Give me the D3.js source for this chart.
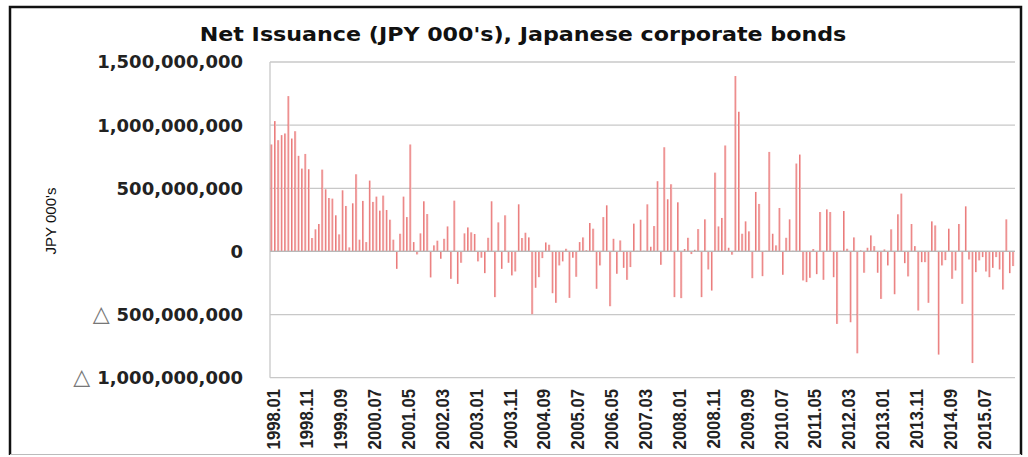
<!DOCTYPE html>
<html lang="en">
<head>
    <meta charset="utf-8">
    <title>Net Issuance, Japanese corporate bonds</title>
    <script src="https://d3js.org/d3.v7.min.js"></script>
    <style>
        body {
            margin: 0;
            padding: 0;
            background: #fff;
            overflow: hidden;
        }
        svg {
            display: block;
        }
        .title {
            font-family: "DejaVu Sans", sans-serif;
            font-weight: bold;
            font-size: 20px;
            fill: #111;
        }
        .ylab {
            font-family: "DejaVu Sans", sans-serif;
            font-weight: bold;
            font-size: 18px;
            fill: #222;
        }
        .ylab .tri {
            font-weight: normal;
            fill: #777;
            font-size: 22px;
        }
        .xlab {
            font-family: "Liberation Sans", Arial, sans-serif;
            font-weight: bold;
            font-size: 19px;
            fill: #222;
        }
        .ytitle {
            font-family: "Liberation Sans", sans-serif;
            font-size: 15px;
            fill: #111;
        }
        .grid line {
            stroke: #c8c8c8;
            stroke-width: 1.3px;
        }
    </style>
</head>
<body>
<svg id="chart"></svg>
<script>
    // net issuance, millions of JPY 000's, monthly from 1998.01
    const values = [
        847, 1032, 881, 921, 934, 1230, 894, 952, 757, 656, 772, 651, 106, 175, 217, 648, 492, 423, 418, 286, 135, 484, 360, 32, 381, 611, 93,
        400, 74, 561, 392, 434, 323, 442, 328, 251, 93, -138, 140, 434, 272, 847, 74, -24, 143, 397, 296, -206, 48, 85, -58, 100, 198, -217,
        402, -257, -90, 143, 190, 151, 138, -79, -50, -172, 108, 397, -362, 230, -138, 286, -90, -190, -159, 373, 106, 148, 111, -497, -288, -204, -53,
        71, 53, -331, -407, -111, -79, 21, -368, -50, -201, 74, 111, 10, 225, 180, -296, -111, 272, 365, -434, 100, -177, 87, -130, -225, -124, 220,
        5, 251, 5, 373, 37, 201, 556, -106, 825, 413, 532, -362, 389, -370, 19, 108, -21, 13, 177, -362, 254, -143, -310, 624, 198, 265, 839,
        29, -26, 1389, 1106, 140, 238, 159, -212, 471, 376, -196, 5, 788, 140, 48, 344, -185, 108, 254, 5, 696, 767, -230, -243, -209, 19, -180, 312,
        -225, 333, 312, -204, -574, 5, 320, 21, -561, 111, -807, 8, -169, 29, 127, 42, -169, -376, 16, -111, 175, -339, 294, 458, -93, -198, 217,
        42, -468, -85, -85, -407, 238, 206, -817, -111, -69, 180, -217, -151, 217, -415, 357, -64, -884, -164, -71, -45, -159, -204, -130, -45, -143, -302, 254, -172, -116
    ];

    const tickLabels = [
        "1998.01", "1998.11", "1999.09", "2000.07", "2001.05", "2002.03", "2003.01", "2003.11",
        "2004.09", "2005.07", "2006.05", "2007.03", "2008.01", "2008.11", "2009.09", "2010.07",
        "2011.05", "2012.03", "2013.01", "2013.11", "2014.09", "2015.07"
    ];

    const yTicks = [-1000, -500, 0, 500, 1000, 1500];

    // month labels for each bar
    const months = values.map((v, i) => {
        const y = 1998 + Math.floor(i / 12);
        const m = (i % 12) + 1;
        return `${y}.${String(m).padStart(2, "0")}`;
    });

    const width = 1028;
    const height = 457;

    const svg = d3.select("#chart")
        .attr("width", width)
        .attr("height", height);

    const defs = svg.append("defs");
    const grad = defs.append("linearGradient")
        .attr("id", "barGrad")
        .attr("x1", "0").attr("x2", "1").attr("y1", "0").attr("y2", "0");
    grad.append("stop").attr("offset", "0%").attr("stop-color", "#e45e5e");
    grad.append("stop").attr("offset", "100%").attr("stop-color", "#f9cdcd");

    // outer frame
    svg.append("rect")
        .attr("x", 0).attr("y", 0)
        .attr("width", width).attr("height", height)
        .attr("fill", "#fff");
    svg.append("path")
        .attr("d", "M10,455V7H1021V455")
        .attr("fill", "none")
        .attr("stroke", "#111")
        .attr("stroke-width", 2.5);
    svg.append("line")
        .attr("x1", 10).attr("x2", 1021)
        .attr("y1", 454.5).attr("y2", 454.5)
        .attr("stroke", "#bbb")
        .attr("stroke-width", 1);

    const plot = { left: 270, right: 1015, top: 62, bottom: 377.7 };

    const x = d3.scaleBand()
        .domain(months)
        .range([plot.left, plot.right])
        .paddingInner(0.42)
        .paddingOuter(0.2);

    const y = d3.scaleLinear()
        .domain([-1000, 1500])
        .range([plot.bottom, plot.top]);

    // gridlines
    svg.append("g")
        .attr("class", "grid")
        .selectAll("line")
        .data(yTicks)
        .join("line")
        .attr("x1", plot.left)
        .attr("x2", plot.right)
        .attr("y1", d => y(d))
        .attr("y2", d => y(d));

    svg.append("line")
        .attr("x1", plot.left).attr("x2", plot.left)
        .attr("y1", plot.top).attr("y2", plot.bottom)
        .attr("stroke", "#c8c8c8")
        .attr("stroke-width", 1.3);

    // bars
    svg.append("g")
        .selectAll("rect")
        .data(values)
        .join("rect")
        .attr("x", (d, i) => x(months[i]))
        .attr("width", x.bandwidth())
        .attr("y", d => y(Math.max(0, d)))
        .attr("height", d => Math.abs(y(d) - y(0)))
        .attr("fill", "url(#barGrad)");

    // zero line above bars
    svg.append("line")
        .attr("x1", plot.left).attr("x2", plot.right)
        .attr("y1", y(0)).attr("y2", y(0))
        .attr("stroke", "#b8b8b8")
        .attr("stroke-width", 1.3);

    // y tick labels, negatives use the triangle mark
    const fmt = d3.format(",");
    const yl = svg.append("g")
        .selectAll("text")
        .data(yTicks)
        .join("text")
        .attr("class", "ylab")
        .attr("x", 243)
        .attr("y", d => y(d))
        .attr("dy", "0.36em")
        .attr("text-anchor", "end");
    yl.filter(d => d < 0).append("tspan")
        .attr("class", "tri")
        .text("\u25B3 ");
    yl.append("tspan")
        .text(d => fmt(Math.abs(d) * 1e6));

    // x tick labels, squeezed along their length like the original
    svg.append("g")
        .selectAll("text")
        .data(tickLabels)
        .join("text")
        .attr("class", "xlab")
        .attr("transform", d => `translate(${x(d) + x.bandwidth() / 2 + 1},389) rotate(-90) scale(0.88,1)`)
        .attr("dy", "0.36em")
        .attr("text-anchor", "end")
        .text(d => d);

    svg.append("text")
        .attr("class", "ytitle")
        .attr("transform", "translate(51,221) rotate(-90)")
        .attr("dy", "0.35em")
        .attr("text-anchor", "middle")
        .text("JPY 000's");

    svg.append("text")
        .attr("class", "title")
        .attr("transform", "translate(523,41) scale(1.11,1)")
        .attr("text-anchor", "middle")
        .text("Net Issuance (JPY 000's), Japanese corporate bonds");
</script>
</body>
</html>
